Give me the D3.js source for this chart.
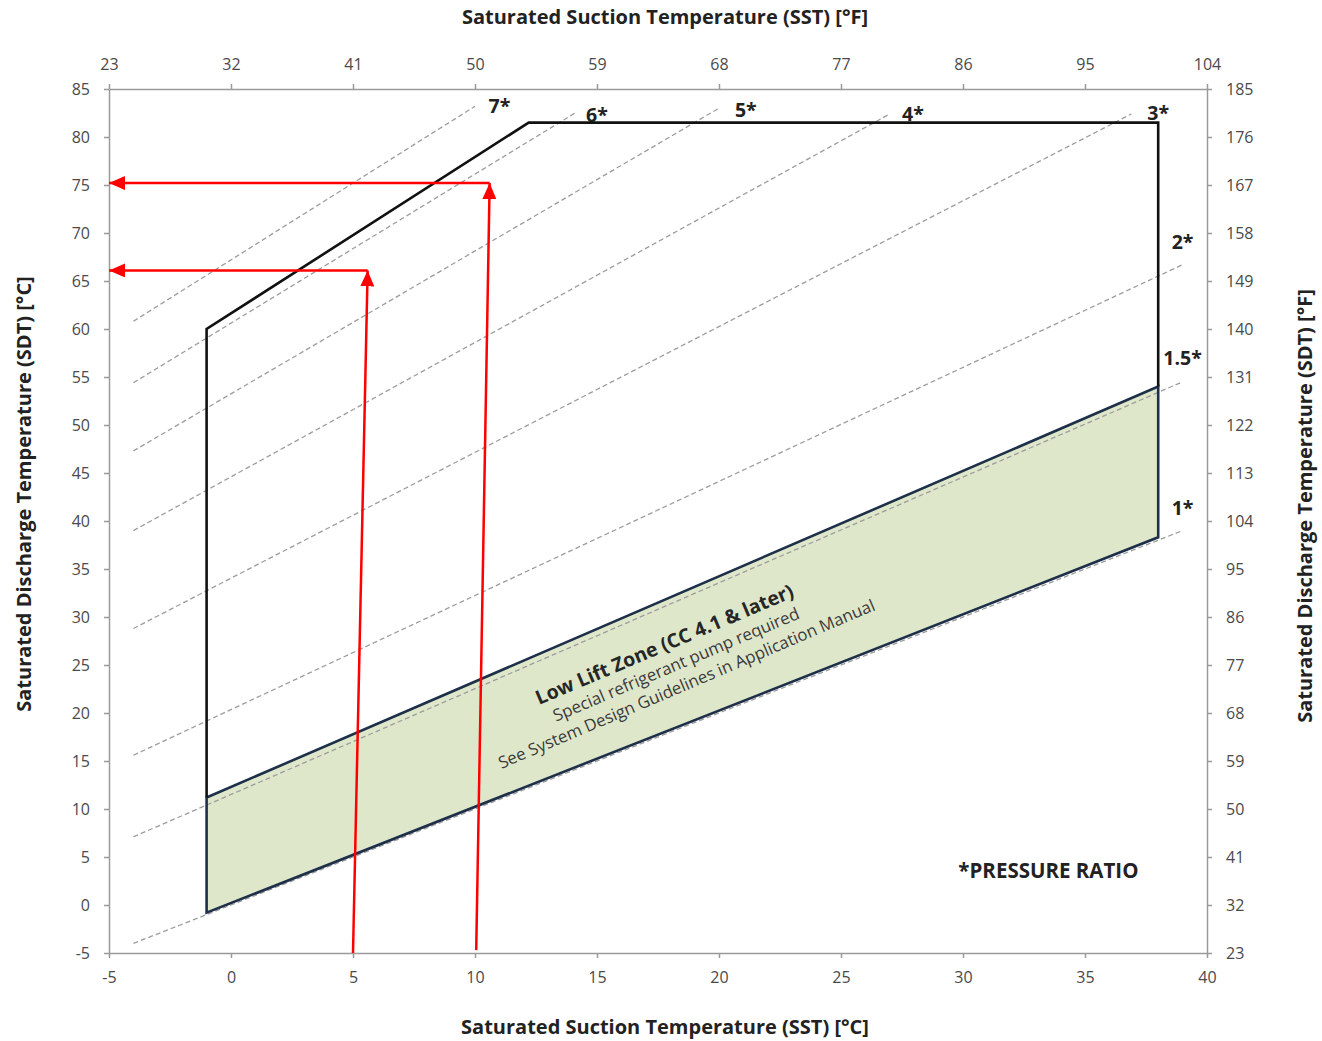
<!DOCTYPE html>
<html>
<head>
<meta charset="utf-8">
<script src="https://cdn.jsdelivr.net/npm/d3@7"></script>
<style>
  body { margin: 0; background: #fff; }
  svg { display: block; font-family: "Open Sans", "Noto Sans", sans-serif; }
  .axis path, .axis line { stroke: #9a9a9a; stroke-width: 1.5; }
  .axis text { fill: #4a4a4a; font-size: 16px; font-family: "Open Sans", sans-serif; }
  .title { font-weight: bold; font-size: 20px; fill: #222; }
  .ratio-label { font-weight: bold; font-size: 19.5px; fill: #222; }
</style>
</head>
<body>
<div id="chart"></div>
<script>
// axis ticks (°C and matching °F)
const sstC = [-5, 0, 5, 10, 15, 20, 25, 30, 35, 40];
const sstF = [23, 32, 41, 50, 59, 68, 77, 86, 95, 104];
const sdtC = [-5, 0, 5, 10, 15, 20, 25, 30, 35, 40, 45, 50, 55, 60, 65, 70, 75, 80, 85];
const sdtF = [23, 32, 41, 50, 59, 68, 77, 86, 95, 104, 113, 122, 131, 140, 149, 158, 167, 176, 185];

// operating envelope (SST, SDT in °C)
const envelopeSST = [-1, -1, 12.2, 38, 38];
const envelopeSDT = [11.2, 60, 81.5, 81.5, 54];

// low lift zone
const lowLiftSST = [-1, 38, 38, -1];
const lowLiftSDT = [11.2, 54, 38.3, -0.8];

// pressure ratio lines
const ratioLabels = ["1*", "1.5*", "2*", "3*", "4*", "5*", "6*", "7*"];
const ratioStartSST = [-4, -4, -4, -4, -4, -4, -4, -4];
const ratioStartSDT = [-4, 7.1, 15.6, 28.8, 39.0, 47.3, 54.4, 60.8];
const ratioEndSST = [39, 39, 39, 36.9, 27.0, 20.0, 14.1, 10.0];
const ratioEndSDT = [39, 54.5, 66.7, 82.4, 82.4, 83.0, 82.5, 83.2];
const ratioLabelSST = [39.0, 39.0, 39.0, 38.0, 27.95, 21.1, 15.0, 11.0];
const ratioLabelSDT = [41.4, 57.0, 69.1, 82.6, 82.4, 82.9, 82.3, 83.3];

// red reading arrows
const arrowFromSST = [5.0, 5.6, 10.05, 10.6];
const arrowFromSDT = [-5, 66.1, -4.7, 75.2];
const arrowToSST = [5.6, -5, 10.6, -5];
const arrowToSDT = [66.1, 66.1, 75.2, 75.2];

const lowLiftLines = [
  "Low Lift Zone (CC 4.1 & later)",
  "Special refrigerant pump required",
  "See System Design Guidelines in Application Manual"
];

const W = 1322, H = 1041;
const svg = d3.select("#chart").append("svg").attr("width", W).attr("height", H);

const x = d3.scaleLinear().domain([-5, 40]).range([109, 1207]);
const y = d3.scaleLinear().domain([-5, 85]).range([953, 89]);
const xF = d3.scaleLinear().domain([23, 104]).range([109, 1207]);
const yF = d3.scaleLinear().domain([23, 185]).range([953, 89]);
const fmt = d => String(d);

// axes
svg.append("g").attr("class", "axis").attr("transform", "translate(0,953)")
  .call(d3.axisBottom(x).tickValues(sstC).tickFormat(fmt).tickSize(5).tickSizeOuter(0).tickPadding(14));
svg.append("g").attr("class", "axis").attr("transform", "translate(0,89)")
  .call(d3.axisTop(xF).tickValues(sstF).tickFormat(fmt).tickSize(5).tickSizeOuter(0).tickPadding(14));
svg.append("g").attr("class", "axis").attr("transform", "translate(109,0)")
  .call(d3.axisLeft(y).tickValues(sdtC).tickFormat(fmt).tickSize(5).tickSizeOuter(0).tickPadding(14));
svg.append("g").attr("class", "axis").attr("transform", "translate(1207,0)")
  .call(d3.axisRight(yF).tickValues(sdtF).tickFormat(fmt).tickSize(5).tickSizeOuter(0).tickPadding(14));

// titles
svg.append("text").attr("class", "title").attr("x", 665).attr("y", 24)
  .attr("text-anchor", "middle").text("Saturated Suction Temperature (SST) [°F]");
svg.append("text").attr("class", "title").attr("x", 665).attr("y", 1034)
  .attr("text-anchor", "middle").text("Saturated Suction Temperature (SST) [°C]");
svg.append("text").attr("class", "title")
  .attr("transform", "translate(31,494) rotate(-90)")
  .attr("text-anchor", "middle").text("Saturated Discharge Temperature (SDT) [°C]");
svg.append("text").attr("class", "title")
  .attr("transform", "translate(1312,506) rotate(-90)")
  .attr("text-anchor", "middle").text("Saturated Discharge Temperature (SDT) [°F]");

const line = d3.line().x(d => x(d[0])).y(d => y(d[1]));

// low lift zone fill
const lowLift = lowLiftSST.map((s, i) => [s, lowLiftSDT[i]]);
svg.append("path")
  .attr("d", line(lowLift) + "Z")
  .attr("fill", "#dfe7cb")
  .attr("stroke", "none");

// pressure ratio lines
ratioLabels.forEach((lab, i) => {
  svg.append("path")
    .attr("d", line([[ratioStartSST[i], ratioStartSDT[i]], [ratioEndSST[i], ratioEndSDT[i]]]))
    .attr("fill", "none")
    .attr("stroke", "#9d9d9d")
    .attr("stroke-width", 1.3)
    .attr("stroke-dasharray", "5,3");
  svg.append("text")
    .attr("class", "ratio-label")
    .attr("x", x(ratioLabelSST[i]))
    .attr("y", y(ratioLabelSDT[i]))
    .attr("text-anchor", "middle")
    .attr("dominant-baseline", "central")
    .text(lab);
});

// low lift outline
svg.append("path")
  .attr("d", line(lowLift) + "Z")
  .attr("fill", "none")
  .attr("stroke", "#1e3049")
  .attr("stroke-width", 2.6)
  .attr("stroke-linejoin", "miter");

// envelope
svg.append("path")
  .attr("d", line(envelopeSST.map((s, i) => [s, envelopeSDT[i]])))
  .attr("fill", "none")
  .attr("stroke", "#111")
  .attr("stroke-width", 2.6);

// low lift text
const txt = svg.append("g")
  .attr("transform", `translate(${x(17.75)},${y(27.2)}) rotate(-23)`);
txt.append("text").attr("x", 0).attr("y", 0).attr("text-anchor", "middle")
  .attr("dominant-baseline", "central")
  .attr("font-weight", "bold").attr("font-size", 19.5).attr("fill", "#262626")
  .text(lowLiftLines[0]);
txt.append("text").attr("x", 3).attr("y", 23).attr("text-anchor", "middle")
  .attr("dominant-baseline", "central")
  .attr("font-size", 16.8).attr("fill", "#3a3a3a")
  .text(lowLiftLines[1]);
txt.append("text").attr("x", 5).attr("y", 45).attr("text-anchor", "middle")
  .attr("dominant-baseline", "central")
  .attr("font-size", 16.8).attr("fill", "#3a3a3a")
  .text(lowLiftLines[2]);

// pressure ratio note
svg.append("text")
  .attr("x", x(33.5)).attr("y", y(3.6))
  .attr("text-anchor", "middle")
  .attr("dominant-baseline", "central")
  .attr("font-weight", "bold").attr("font-size", 20.5).attr("fill", "#222")
  .text("*PRESSURE RATIO");

// red arrows
svg.append("defs").append("marker")
  .attr("id", "head")
  .attr("viewBox", "0 -7 16 14")
  .attr("refX", 16).attr("refY", 0)
  .attr("markerWidth", 16).attr("markerHeight", 14)
  .attr("markerUnits", "userSpaceOnUse")
  .attr("orient", "auto")
  .append("path").attr("d", "M0,-7L16,0L0,7Z").attr("fill", "#f00");

arrowFromSST.forEach((s, i) => {
  svg.append("path")
    .attr("d", line([[s, arrowFromSDT[i]], [arrowToSST[i], arrowToSDT[i]]]))
    .attr("fill", "none")
    .attr("stroke", "#f00")
    .attr("stroke-width", 2.5)
    .attr("marker-end", "url(#head)");
});
</script>
</body>
</html>
